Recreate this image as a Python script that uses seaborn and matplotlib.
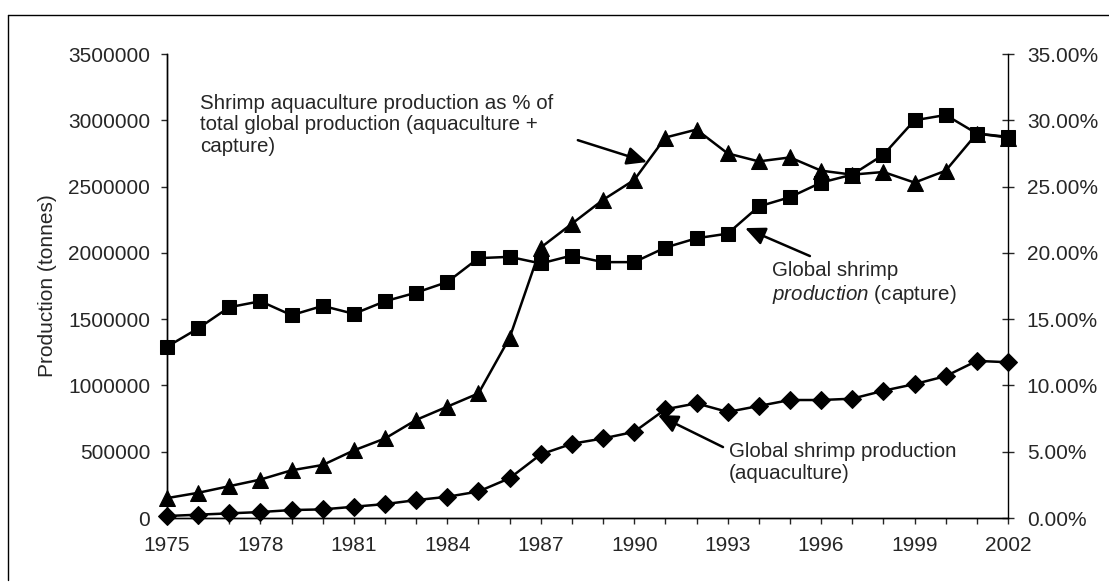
import numpy as np
import pandas as pd
import matplotlib
matplotlib.use("Agg")
import matplotlib.pyplot as plt
import seaborn as sns
from matplotlib.lines import Line2D

years = list(range(1975, 2003))

capture = [1292000, 1430000, 1590000, 1635000, 1530000, 1600000, 1540000, 1635000,
           1700000, 1780000, 1960000, 1970000, 1920000, 1980000, 1930000, 1930000,
           2040000, 2110000, 2145000, 2350000, 2420000, 2530000, 2590000, 2740000,
           3000000, 3040000, 2900000, 2875000]

aquaculture = [15000, 25000, 35000, 45000, 60000, 65000, 85000, 105000,
               135000, 160000, 200000, 300000, 480000, 560000, 600000, 650000,
               820000, 865000, 800000, 845000, 890000, 890000, 900000, 960000,
               1010000, 1070000, 1185000, 1175000]

aqua_share = [1.5, 1.9, 2.4, 2.9, 3.6, 4.0, 5.1, 6.0,
              7.4, 8.4, 9.4, 13.6, 20.4, 22.2, 24.0, 25.5,
              28.7, 29.3, 27.5, 26.9, 27.2, 26.2, 25.9, 26.1,
              25.3, 26.2, 29.0, 28.7]

left_ticks = [0, 500000, 1000000, 1500000, 2000000, 2500000, 3000000, 3500000]
right_ticks = [0, 5, 10, 15, 20, 25, 30, 35]

df = pd.DataFrame({
    "year": years,
    "capture": capture,
    "aquaculture": aquaculture,
    "share": aqua_share,
})

sns.set_style("ticks")
plt.rcParams["font.family"] = ["Liberation Sans", "DejaVu Sans"]
plt.rcParams["mathtext.fontset"] = "custom"
plt.rcParams["mathtext.rm"] = "Liberation Sans"
plt.rcParams["mathtext.it"] = "Liberation Sans:italic"

W, H = 1109, 583
fig = plt.figure(figsize=(W / 100, H / 100), dpi=100)
ax = fig.add_axes([167 / W, 1 - 518 / H, (1008 - 167) / W, (518 - 54) / H])
ax2 = ax.twinx()

line_kw = dict(color="black", linewidth=1.8, markeredgecolor="black",
               markerfacecolor="black", clip_on=False)

sns.lineplot(data=df, x="year", y="capture", ax=ax, marker="s",
             markersize=10, zorder=3, **line_kw)
sns.lineplot(data=df, x="year", y="aquaculture", ax=ax, marker="D",
             markersize=9, zorder=3, **line_kw)
sns.lineplot(data=df, x="year", y="share", ax=ax2, marker="^",
             markersize=11, zorder=2, **line_kw)

ax.set_xlim(1975, 2002)
ax.set_ylim(0, 3500000)
ax2.set_ylim(0, 35)

ax.set_xticks(years)
ax.set_xticklabels([str(y) if (y - 1975) % 3 == 0 else "" for y in years])
ax.set_yticks(left_ticks)
ax.set_yticklabels([str(v) for v in left_ticks])
ax2.set_yticks(right_ticks)
ax2.set_yticklabels([f"{v:.2f}%" for v in right_ticks])

ax.set_xlabel("")
ax.set_ylabel("Production (tonnes)", fontsize=15, labelpad=8)
ax2.set_ylabel("")

ax.tick_params(axis="x", direction="out", length=4, width=1, pad=9, labelsize=15)
ax.tick_params(axis="y", direction="out", length=4, width=1, pad=8, labelsize=15)
ax2.tick_params(axis="y", direction="inout", length=9, width=1, pad=9, labelsize=15)

for a in (ax, ax2):
    a.spines["top"].set_visible(False)
    for s in ("left", "right", "bottom"):
        a.spines[s].set_linewidth(1)
        a.spines[s].set_color("black")
ax.spines["right"].set_visible(False)

# annotations
fig.text(200 / W, 1 - 94 / H,
         "Shrimp aquaculture production as % of\n"
         "total global production (aquaculture +\n"
         "capture)",
         fontsize=14.8, va="top", ha="left", linespacing=1.15)
fig.text(772 / W, 1 - 261 / H,
         "Global shrimp\n$\\it{production}$ (capture)",
         fontsize=14.8, va="top", ha="left", linespacing=1.2)
fig.text(729 / W, 1 - 442 / H,
         "Global shrimp production\n(aquaculture)",
         fontsize=14.8, va="top", ha="left", linespacing=1.2)

arrow = dict(arrowstyle="-|>,head_length=0.55,head_width=0.25",
             color="black", linewidth=1.8, mutation_scale=22,
             shrinkA=0, shrinkB=0)
ax2.annotate("", xy=(1990.41, 26.85), xytext=(1988.19, 28.5), arrowprops=arrow)
ax.annotate("", xy=(1993.56, 2187000), xytext=(1995.64, 1976000), arrowprops=arrow)
ax.annotate("", xy=(1990.76, 777000), xytext=(1992.85, 535000), arrowprops=arrow)

# outer chart frame (top and left edges visible)
fig.add_artist(Line2D([8 / W, 1], [1 - 15 / H, 1 - 15 / H],
                      transform=fig.transFigure, color="black", linewidth=1))
fig.add_artist(Line2D([8 / W, 8 / W], [1 - 15 / H, 1 - 580 / H],
                      transform=fig.transFigure, color="black", linewidth=1))

fig.savefig("out.png", dpi=100)
